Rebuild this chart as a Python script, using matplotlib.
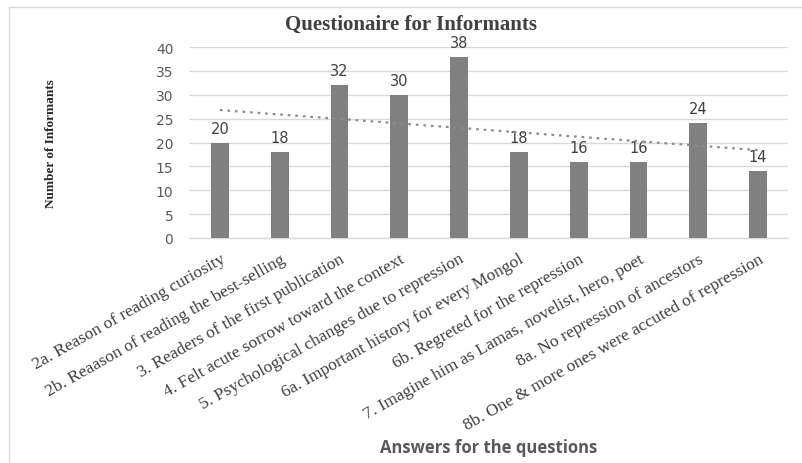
import matplotlib
matplotlib.use("Agg")
import matplotlib.pyplot as plt
import numpy as np
from matplotlib.lines import Line2D

categories = [
    "2a. Reason of reading curiosity",
    "2b. Reaason of reading the best-selling",
    "3. Readers of the first publication",
    "4. Felt acute sorrow toward the context",
    "5. Psychological changes due to repression",
    "6a. Important history for every Mongol",
    "6b. Regreted for the repression",
    "7. Imagine him as Lamas, novelist, hero, poet",
    "8a. No repression of ancestors",
    "8b. One & more ones were accuted of repression",
]
values = [20, 18, 32, 30, 38, 18, 16, 16, 24, 14]
yticks = [0, 5, 10, 15, 20, 25, 30, 35, 40]

title = "Questionaire for Informants"
xlabel = "Answers for the questions"
ylabel = "Number of Informants"

W, H = 802, 464
fig = plt.figure(figsize=(W / 100, H / 100), dpi=100)
ax = fig.add_axes([190 / W, 1 - 239 / H, (788 - 190) / W, (239 - 48) / H])

x = np.arange(len(categories))
ax.bar(x, values, width=0.3, color="#808080", zorder=3)

# linear trendline
coef = np.polyfit(x, values, 1)
ax.plot(x, np.polyval(coef, x), linestyle=(0, (1.2, 2.2)), color="#8c8c8c",
        linewidth=1.6, zorder=4)

for xi, v in zip(x, values):
    ax.annotate(str(v), (xi, v), xytext=(0, 5), textcoords="offset points",
                ha="center", va="bottom", fontsize=10.5, color="#404040",
                family="DejaVu Sans")

ax.set_xlim(-0.5, len(categories) - 0.5)
ax.set_ylim(0, 40)
ax.set_yticks(yticks)
ax.set_yticklabels([str(t) for t in yticks], fontsize=10, color="#595959",
                   family="DejaVu Sans")
ax.tick_params(axis="y", length=0, pad=12)
ax.tick_params(axis="x", length=0, pad=9)
ax.set_xticks(x)
ax.set_xticklabels(categories, rotation=29.5, ha="right",
                   rotation_mode="anchor", fontsize=12.6, color="#404040",
                   family="Liberation Serif")
ax.grid(axis="y", color="#d9d9d9", linewidth=1, zorder=0)
for s in ["top", "right", "left"]:
    ax.spines[s].set_visible(False)
ax.spines["bottom"].set_color("#d9d9d9")
ax.spines["bottom"].set_linewidth(1)

fig.text(411 / W, 1 - 25 / H, title, ha="center", va="center",
         fontsize=15, fontweight="bold", family="Liberation Serif",
         color="#404040")
fig.text(51 / W, 1 - 144 / H, ylabel, ha="center", va="center", rotation=90,
         fontsize=9.5, fontweight="bold", family="Liberation Serif", color="#262626")
fig.text(489 / W, 1 - 448 / H, xlabel, ha="center", va="center",
         fontsize=12, fontweight="bold", family="Open Sans", color="#595959")

# outer chart border (top and left visible)
fig.add_artist(Line2D([9 / W, 9 / W], [0, 1 - 8 / H], transform=fig.transFigure,
                      color="#d9d9d9", linewidth=1))
fig.add_artist(Line2D([9 / W, 1], [1 - 8 / H, 1 - 8 / H], transform=fig.transFigure,
                      color="#d9d9d9", linewidth=1))

fig.savefig("out.png", dpi=100, facecolor="white")
